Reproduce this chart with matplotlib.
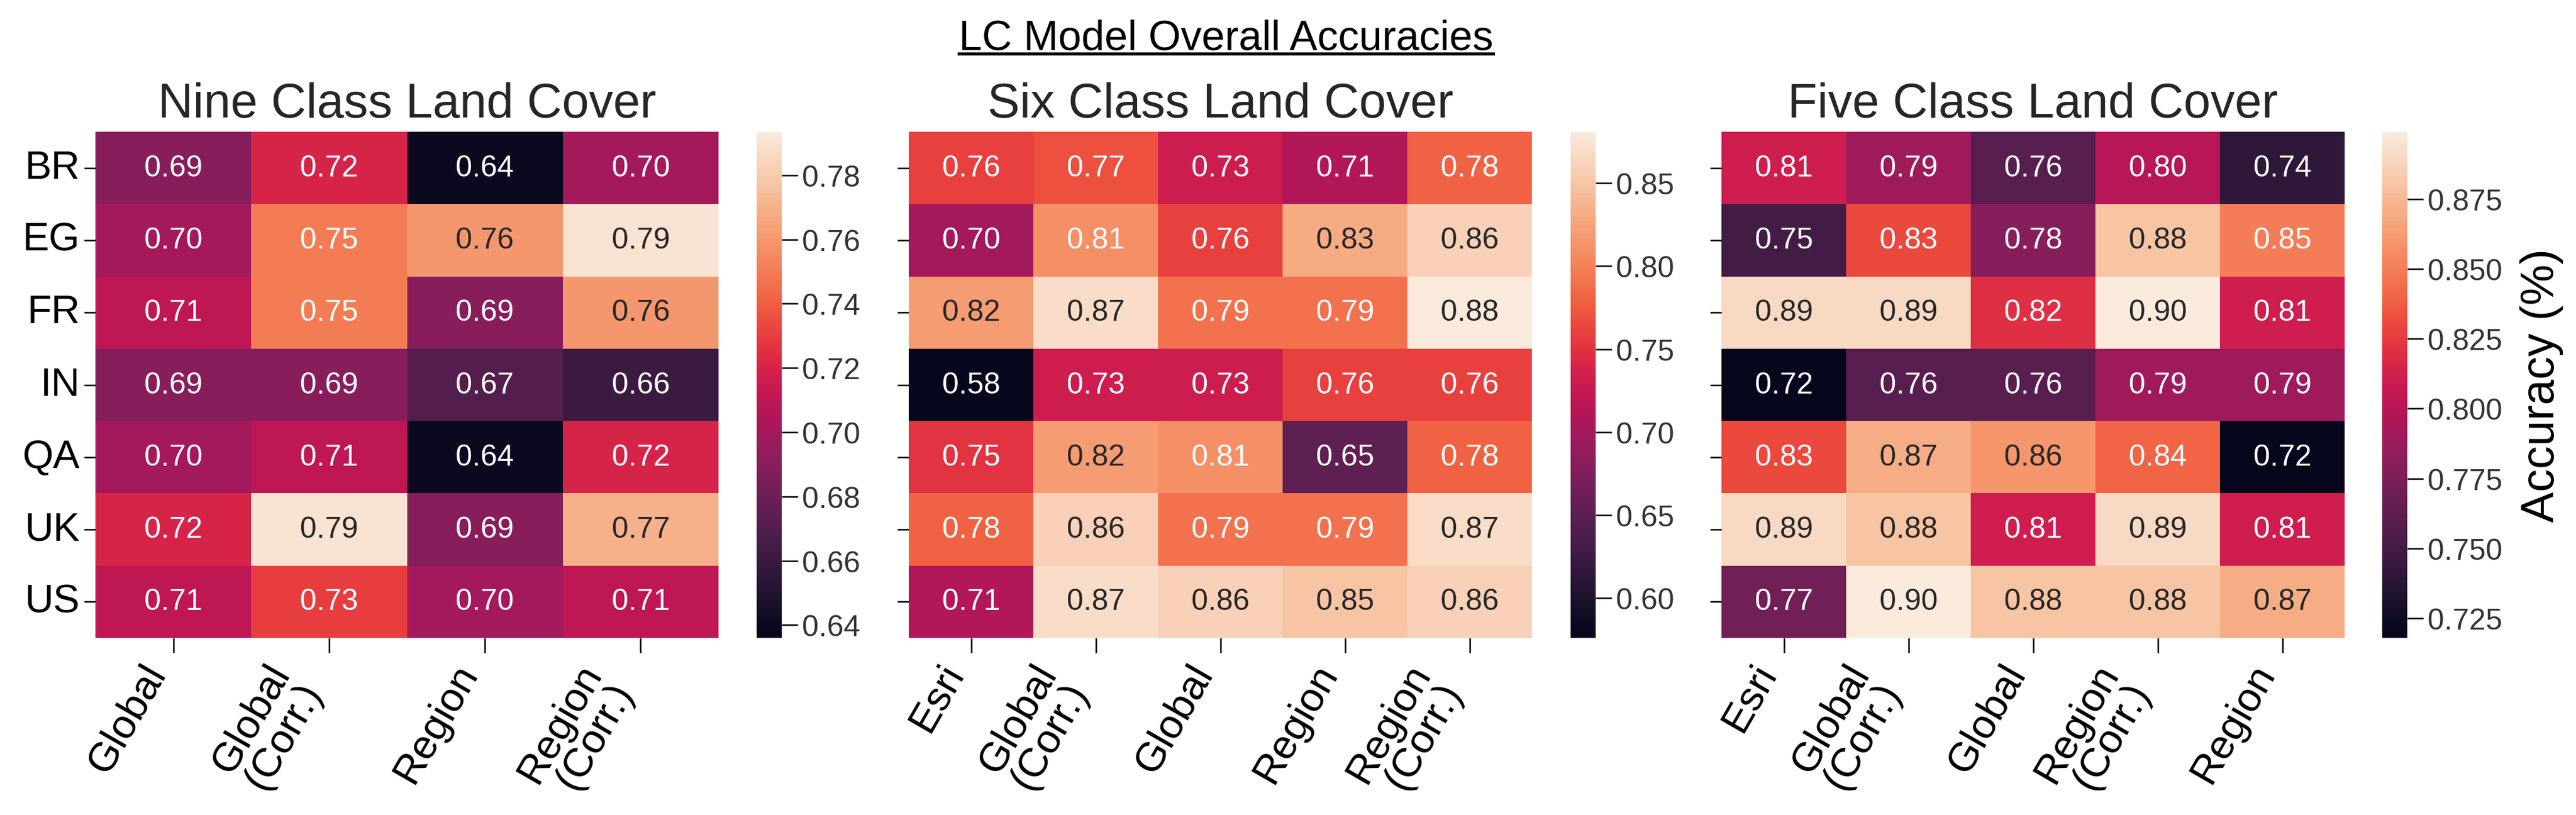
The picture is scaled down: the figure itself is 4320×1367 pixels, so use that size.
import matplotlib
matplotlib.use("Agg")
import matplotlib.pyplot as plt
from matplotlib.lines import Line2D
from matplotlib.ticker import MultipleLocator
import pandas as pd
import seaborn as sns

plt.rcParams["font.family"] = ["Liberation Sans", "DejaVu Sans"]

# 数据
regions = ["BR", "EG", "FR", "IN", "QA", "UK", "US"]

nine_cols = ["Global", "Global\n(Corr.)", "Region", "Region\n(Corr.)"]
nine_vals = [
    [0.69, 0.72, 0.64, 0.70],
    [0.70, 0.75, 0.76, 0.79],
    [0.71, 0.75, 0.69, 0.76],
    [0.69, 0.69, 0.67, 0.66],
    [0.70, 0.71, 0.64, 0.72],
    [0.72, 0.79, 0.69, 0.77],
    [0.71, 0.73, 0.70, 0.71],
]

six_cols = ["Esri", "Global\n(Corr.)", "Global", "Region", "Region\n(Corr.)"]
six_vals = [
    [0.76, 0.77, 0.73, 0.71, 0.78],
    [0.70, 0.81, 0.76, 0.83, 0.86],
    [0.82, 0.87, 0.79, 0.79, 0.88],
    [0.58, 0.73, 0.73, 0.76, 0.76],
    [0.75, 0.82, 0.81, 0.65, 0.78],
    [0.78, 0.86, 0.79, 0.79, 0.87],
    [0.71, 0.87, 0.86, 0.85, 0.86],
]

five_cols = ["Esri", "Global\n(Corr.)", "Global", "Region\n(Corr.)", "Region"]
five_vals = [
    [0.81, 0.79, 0.76, 0.80, 0.74],
    [0.75, 0.83, 0.78, 0.88, 0.85],
    [0.89, 0.89, 0.82, 0.90, 0.81],
    [0.72, 0.76, 0.76, 0.79, 0.79],
    [0.83, 0.87, 0.86, 0.84, 0.72],
    [0.89, 0.88, 0.81, 0.89, 0.81],
    [0.77, 0.90, 0.88, 0.88, 0.87],
]

panels = [
    ("Nine Class Land Cover", nine_cols, nine_vals, 0.636, 0.7935, 0.02),
    ("Six Class Land Cover", six_cols, six_vals, 0.576, 0.881, 0.05),
    ("Five Class Land Cover", five_cols, five_vals, 0.718, 0.899, 0.025),
]

W, H = 4320, 1368
fig = plt.figure(figsize=(W / 150, H / 150), dpi=150)

ax_lefts = [160, 1524, 2887]
cax_lefts = [1269, 2634, 3995]
top, bottom = 222, 1071

for i, (title, cols, vals, vmin, vmax, step) in enumerate(panels):
    ax = fig.add_axes([ax_lefts[i] / W, 1 - bottom / H, 1045 / W, (bottom - top) / H])
    cax = fig.add_axes([cax_lefts[i] / W, 1 - bottom / H, 42 / W, (bottom - top) / H])
    df = pd.DataFrame(vals, index=regions, columns=cols)
    sns.heatmap(df, ax=ax, cbar_ax=cax, annot=True, fmt=".2f", vmin=vmin, vmax=vmax,
                annot_kws={"fontsize": 24})
    ax.set_title(title, fontsize=39, pad=12, color="#262626")
    ax.set_xticklabels(cols, rotation=60, ha="right", fontsize=33, color="black",
                       linespacing=0.95)
    if i == 0:
        ax.set_yticklabels(regions, rotation=0, fontsize=32, color="black")
    else:
        ax.set_yticklabels([])
    ax.tick_params(axis="y", length=9, width=1.2)
    ax.tick_params(axis="x", length=12, width=1.2)

    cax.yaxis.set_major_locator(MultipleLocator(step))
    cax.tick_params(labelsize=24, length=13, width=1.2, labelcolor="#333333")
    if i == 2:
        cax.set_ylabel("Accuracy (%)", fontsize=37, labelpad=14)

# 带下划线的总标题
t = fig.text(2056 / W, 1 - 83 / H, "LC Model Overall Accuracies", fontsize=33.5,
             ha="center", va="baseline")
fig.canvas.draw()
bb = t.get_window_extent().transformed(fig.transFigure.inverted())
uy = 1 - 91 / H
fig.add_artist(Line2D([bb.x0, bb.x1], [uy, uy], transform=fig.transFigure,
                      color="black", linewidth=2.5))

fig.savefig("out.png", dpi=150)
plt.close(fig)
